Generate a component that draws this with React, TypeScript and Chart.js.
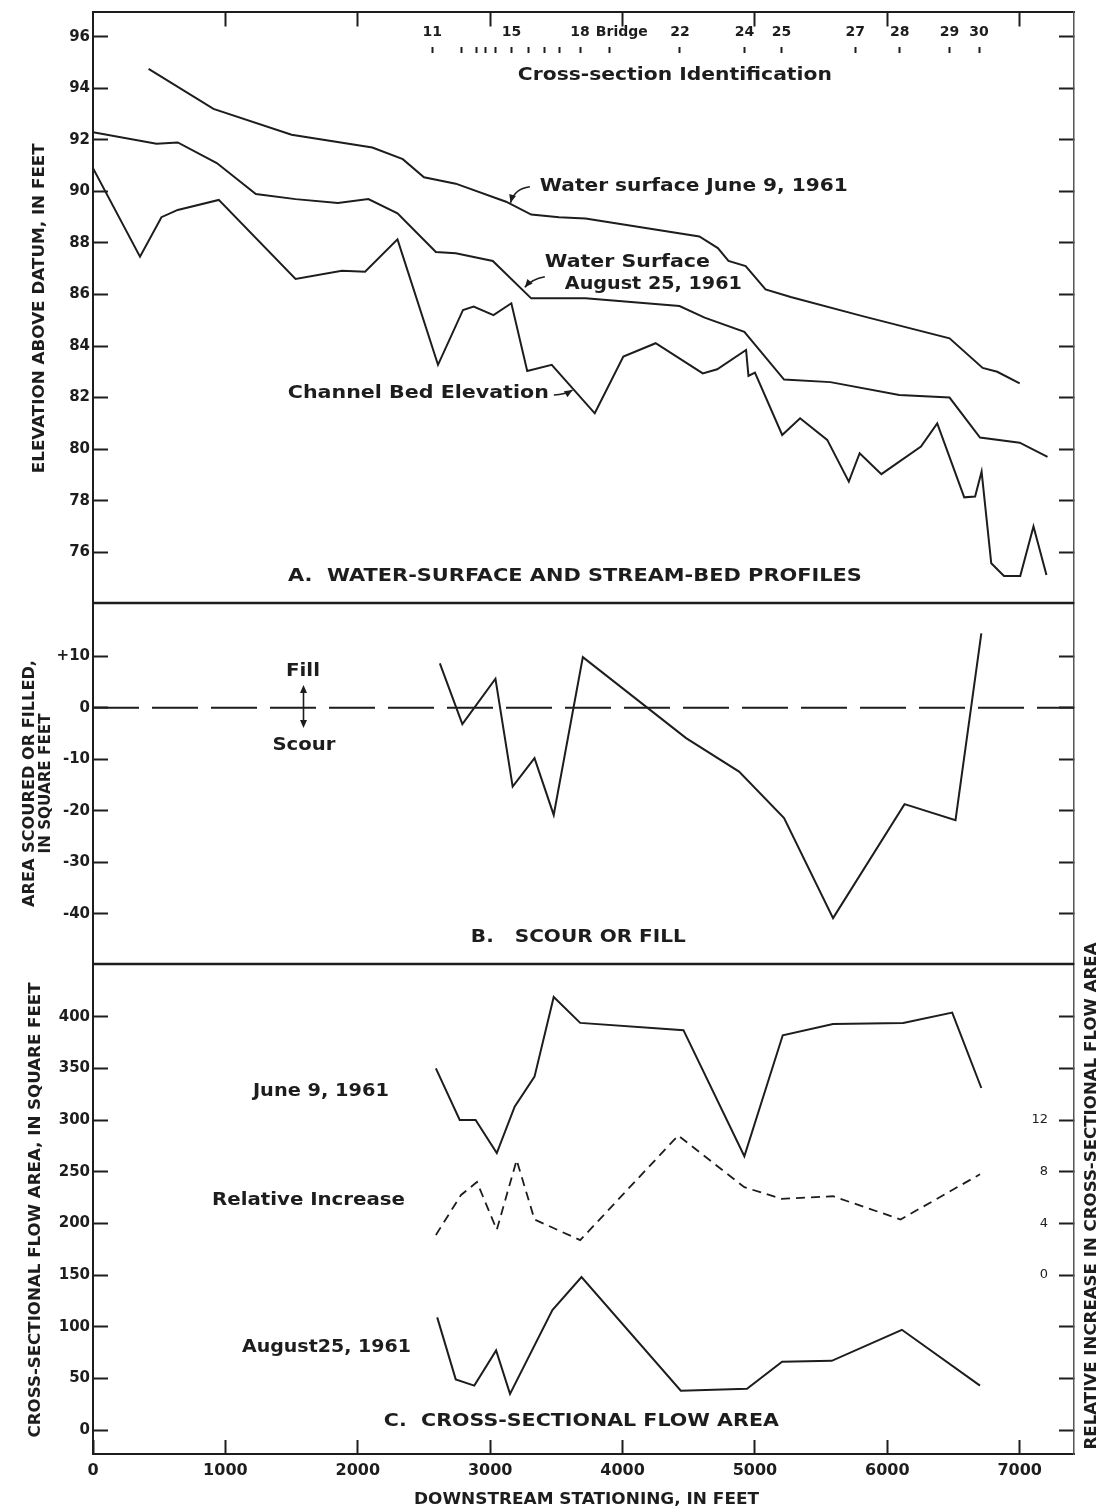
import { useEffect, useRef } from 'react';
import { Chart, registerables } from 'chart.js';

Chart.register(...registerables);

// ---------- A. Water-surface and stream-bed profiles (elevation above datum, ft) ----------
const juneSurfaceStations = [420, 910, 1500, 2110, 2340, 2500, 2740, 3120, 3310, 3520, 3720, 4580, 4720, 4800, 4930, 5080, 5270, 5820, 6470, 6720, 6830, 7000];
const juneSurfaceElevations = [94.75, 93.2, 92.2, 91.7, 91.25, 90.55, 90.3, 89.6, 89.1, 89.0, 88.95, 88.25, 87.8, 87.3, 87.1, 86.2, 85.9, 85.15, 84.3, 83.15, 83.0, 82.55];

const augustSurfaceStations = [0, 480, 640, 935, 1230, 1530, 1850, 2080, 2300, 2590, 2740, 3020, 3310, 3720, 4430, 4620, 4920, 5220, 5570, 6090, 6470, 6700, 7000, 7210];
const augustSurfaceElevations = [92.3, 91.85, 91.9, 91.1, 89.9, 89.7, 89.55, 89.7, 89.15, 87.65, 87.6, 87.3, 85.85, 85.85, 85.55, 85.1, 84.55, 82.7, 82.6, 82.1, 82.0, 80.45, 80.25, 79.7];

const bedStations = [0, 355, 517, 640, 950, 1530, 1880, 2055, 2300, 2606, 2795, 2875, 3025, 3160, 3280, 3465, 3790, 4006, 4250, 4606, 4715, 4933, 4951, 5000, 5206, 5341, 5546, 5709, 5791, 5955, 6254, 6377, 6581, 6663, 6712, 6785, 6881, 7004, 7104, 7202];
const bedElevations = [90.9, 87.47, 89.0, 89.28, 89.67, 86.6, 86.92, 86.88, 88.14, 83.27, 85.4, 85.53, 85.2, 85.66, 83.03, 83.27, 81.39, 83.59, 84.11, 82.94, 83.1, 83.85, 82.84, 82.97, 80.55, 81.2, 80.36, 78.74, 79.84, 79.03, 80.1, 81.0, 78.13, 78.16, 79.13, 75.57, 75.08, 75.08, 77.0, 75.12];

// ---------- B. Scour or fill (area scoured or filled, sq ft) ----------
const scourStations = [2620, 2790, 3040, 3170, 3335, 3480, 3700, 4480, 4880, 5220, 5590, 6130, 6515, 6710];
const scourAreas = [8.6, -3.2, 5.6, -15.3, -9.8, -20.8, 9.8, -5.9, -12.4, -21.4, -40.8, -18.7, -21.8, 14.4];
const zeroLineStations = [0, 7410];
const zeroLineValues = [0, 0];

// ---------- C. Cross-sectional flow area (sq ft) and relative increase ----------
const juneAreaStations = [2590, 2770, 2890, 3050, 3185, 3335, 3480, 3680, 4460, 4920, 5210, 5590, 6120, 6490, 6710];
const juneAreas = [350, 300, 300, 268, 313, 342, 419, 394, 387, 265, 382, 393, 394, 404, 331];

const increaseStations = [2590, 2780, 2900, 3050, 3200, 3335, 3680, 4420, 4920, 5200, 5590, 6100, 6700];
const increaseValues = [3.1, 6.2, 7.2, 3.5, 8.9, 4.3, 2.7, 10.8, 6.8, 5.9, 6.1, 4.3, 7.8];

const augustAreaStations = [2600, 2740, 2880, 3045, 3150, 3470, 3690, 4440, 4940, 5205, 5580, 6110, 6700];
const augustAreas = [109, 49, 43, 77, 35, 116, 148, 38, 40, 66, 67, 97, 43];

// ---------- Cross-section identification ----------
const sectionStations = [2562, 2780, 2895, 2967, 3037, 3162, 3287, 3414, 3525, 3679, 3902, 4433, 4921, 5200, 5758, 6093, 6469, 6693];
const sectionLabels = ['11', '', '', '', '', '15', '', '', '', '18', '     Bridge', '22', '24', '25', '27', '28', '29', '30'];

// ---------- Tick values ----------
const stationTicks = [0, 1000, 2000, 3000, 4000, 5000, 6000, 7000];
const topStationTicks = [1000, 2000, 3000, 4000, 5000, 6000, 7000];
const elevationTicks = [76, 78, 80, 82, 84, 86, 88, 90, 92, 94, 96];
const scourTicks = [-40, -30, -20, -10, 0, 10];
const areaTicks = [0, 50, 100, 150, 200, 250, 300, 350, 400];
const increaseTicks = [-12, -8, -4, 0, 4, 8, 12, 16, 20];
const increaseLabelled = [0, 4, 8, 12];

// ---------- Axis ranges ----------
const STATION_MAX = 7410;
const ELEV_MIN = 74.03;
const ELEV_MAX = 96.98;
const SCOUR_MIN = -49.7;
const SCOUR_MAX = 20.29;
const AREA_MIN = -23.2;
const AREA_MAX = 451;
// relative increase shares the flow-area frame: 0 sits at 150 sq ft, 4 units per 50 sq ft
const toIncrease = (area: number) => (area - 150) / 12.5;

const INK = '#1d1d1d';
const FONT = "'DejaVu Sans', 'Liberation Sans', sans-serif";

const toPoints = (xs: number[], ys: number[]) => xs.map((x, i) => ({ x, y: ys[i] }));

type Note = {
  text: string;
  station: number;
  value: number;
  axis: string;
  width: number;
  size: number;
  align: CanvasTextAlign;
};

const panelNotes: Note[] = [
  { text: 'Cross-section Identification', station: 4395, value: 94.52, axis: 'yA', width: 314, size: 18, align: 'center' },
  { text: 'Water surface June 9, 1961', station: 3375, value: 90.21, axis: 'yA', width: 308, size: 18, align: 'left' },
  { text: 'Water Surface', station: 3413, value: 87.26, axis: 'yA', width: 165, size: 18, align: 'left' },
  { text: 'August 25, 1961', station: 3564, value: 86.41, axis: 'yA', width: 177, size: 18, align: 'left' },
  { text: 'Channel Bed Elevation', station: 3443, value: 82.18, axis: 'yA', width: 261, size: 18, align: 'right' },
  { text: 'A.  WATER-SURFACE AND STREAM-BED PROFILES', station: 1472, value: 75.04, axis: 'yA', width: 574, size: 17, align: 'left' },
  { text: 'Fill', station: 1586, value: 6.91, axis: 'yB', width: 34, size: 17, align: 'center' },
  { text: 'Scour', station: 1593, value: -7.43, axis: 'yB', width: 63, size: 17, align: 'center' },
  { text: 'B.   SCOUR OR FILL', station: 2854, value: -44.66, axis: 'yB', width: 215, size: 17, align: 'left' },
  { text: 'June 9, 1961', station: 1208, value: 327.1, axis: 'yC', width: 136, size: 17, align: 'left' },
  { text: 'Relative Increase', station: 899, value: 221.6, axis: 'yC', width: 193, size: 17, align: 'left' },
  { text: 'August25, 1961', station: 1125, value: 79.4, axis: 'yC', width: 169, size: 17, align: 'left' },
  { text: 'C.  CROSS-SECTIONAL FLOW AREA', station: 2197, value: 7.8, axis: 'yC', width: 395, size: 17, align: 'left' },
];

type Leader = { axis: string; from: [number, number]; to: [number, number]; bend: number };
const leaders: Leader[] = [
  { axis: 'yA', from: [3300, 90.18], to: [3154, 89.56], bend: -6 },
  { axis: 'yA', from: [3413, 86.69], to: [3262, 86.28], bend: -3 },
  { axis: 'yA', from: [3481, 82.1], to: [3622, 82.29], bend: 2 },
];

type AxisTitle = { lines: string[]; axis: string; x: number; lengths: number[]; shift: number; size: number };
const axisTitles: AxisTitle[] = [
  { lines: ['ELEVATION ABOVE DATUM, IN FEET'], axis: 'yA', x: 40, lengths: [330], shift: 1, size: 15 },
  { lines: ['AREA SCOURED OR FILLED,', 'IN SQUARE FEET'], axis: 'yB', x: 30, lengths: [247, 140], shift: 0, size: 15 },
  { lines: ['CROSS-SECTIONAL FLOW AREA, IN SQUARE FEET'], axis: 'yC', x: 36, lengths: [455], shift: 1, size: 15 },
  { lines: ['RELATIVE INCREASE IN CROSS-SECTIONAL FLOW AREA'], axis: 'yCR', x: 1092, lengths: [507], shift: -13, size: 15 },
];

function fittedText(
  ctx: CanvasRenderingContext2D,
  text: string,
  x: number,
  y: number,
  size: number,
  width: number,
  align: CanvasTextAlign,
  rotate = 0,
) {
  ctx.save();
  ctx.font = `bold ${size}px ${FONT}`;
  const natural = ctx.measureText(text).width;
  ctx.translate(x, y);
  if (rotate) ctx.rotate(rotate);
  ctx.scale(width / natural, 1);
  ctx.textAlign = align;
  ctx.textBaseline = 'middle';
  ctx.fillStyle = INK;
  ctx.fillText(text, 0, 0);
  ctx.restore();
}

function arrowHead(ctx: CanvasRenderingContext2D, x: number, y: number, angle: number, len = 8, half = 3.5) {
  ctx.save();
  ctx.translate(x, y);
  ctx.rotate(angle);
  ctx.beginPath();
  ctx.moveTo(0, 0);
  ctx.lineTo(-len, -half);
  ctx.lineTo(-len, half);
  ctx.closePath();
  ctx.fillStyle = INK;
  ctx.fill();
  ctx.restore();
}

const figureNotes = {
  id: 'figureNotes',
  afterDraw(chart: any) {
    const { ctx, scales, chartArea } = chart;
    const px = (v: number) => scales.x.getPixelForValue(v);

    // panel dividers
    ctx.save();
    ctx.strokeStyle = INK;
    ctx.lineWidth = 2.5;
    [scales.yA.bottom, scales.yB.bottom].forEach((y: number) => {
      ctx.beginPath();
      ctx.moveTo(chartArea.left, y);
      ctx.lineTo(chartArea.right, y);
      ctx.stroke();
    });
    ctx.restore();

    // panel notes
    panelNotes.forEach((n) => {
      fittedText(ctx, n.text, px(n.station), scales[n.axis].getPixelForValue(n.value), n.size, n.width, n.align);
    });

    // leader arrows
    ctx.save();
    ctx.strokeStyle = INK;
    ctx.lineWidth = 1.6;
    leaders.forEach((l) => {
      const s = scales[l.axis];
      const x0 = px(l.from[0]);
      const y0 = s.getPixelForValue(l.from[1]);
      const x1 = px(l.to[0]);
      const y1 = s.getPixelForValue(l.to[1]);
      const cx = (x0 + x1) / 2 + l.bend;
      const cy = (y0 + y1) / 2 + l.bend;
      ctx.beginPath();
      ctx.moveTo(x0, y0);
      ctx.quadraticCurveTo(cx, cy, x1, y1);
      ctx.stroke();
      arrowHead(ctx, x1, y1, Math.atan2(y1 - cy, x1 - cx));
    });
    ctx.restore();

    // fill / scour double arrow
    const ax = px(1590);
    const yTop = scales.yB.getPixelForValue(4.4);
    const yBot = scales.yB.getPixelForValue(-3.94);
    ctx.save();
    ctx.strokeStyle = INK;
    ctx.lineWidth = 1.6;
    ctx.beginPath();
    ctx.moveTo(ax, yTop + 4);
    ctx.lineTo(ax, yBot - 4);
    ctx.stroke();
    arrowHead(ctx, ax, yTop, -Math.PI / 2, 8, 3.5);
    arrowHead(ctx, ax, yBot, Math.PI / 2, 8, 3.5);
    ctx.restore();

    // axis titles
    axisTitles.forEach((t) => {
      const s = scales[t.axis];
      const cy = (s.top + s.bottom) / 2 + t.shift;
      t.lines.forEach((line, i) => {
        fittedText(ctx, line, t.x + i * 16, cy, t.size, t.lengths[i], 'center', -Math.PI / 2);
      });
    });

    // x-axis title
    fittedText(ctx, 'DOWNSTREAM STATIONING, IN FEET', px(3728), 1500, 15, 345, 'center');
  },
};

const tickFont = { family: FONT, size: 15, weight: 'bold' as const };

function fixedTicks(values: number[]) {
  return (scale: any) => {
    scale.ticks = values.map((value) => ({ value }));
  };
}

// keep every axis box at an exact size, with no extra label padding pushed onto the plot area
function sized(width?: number, height?: number) {
  return (s: any) => {
    if (width !== undefined) s.width = width;
    if (height !== undefined) s.height = height;
    s.paddingTop = 0;
    s.paddingBottom = 0;
    s.paddingLeft = 0;
    s.paddingRight = 0;
  };
}

function leftAxis(min: number, max: number, ticks: number[], weight: number, stackWeight: number, fmt?: (v: number) => string) {
  return {
    type: 'linear',
    position: 'left',
    stack: 'panels',
    stackWeight,
    weight,
    min,
    max,
    afterBuildTicks: fixedTicks(ticks),
    afterFit: sized(93),
    grid: { drawOnChartArea: false, drawTicks: true, tickLength: -15, tickWidth: 2, tickColor: INK },
    border: { display: true, color: INK, width: 2 },
    ticks: {
      color: INK,
      font: tickFont,
      padding: 18,
      callback: (v: number) => (fmt ? fmt(v) : String(v)),
    },
  };
}

function rightAxis(min: number, max: number, ticks: number[], weight: number, stackWeight: number, labels?: number[]) {
  return {
    type: 'linear',
    position: 'right',
    stack: 'panels',
    stackWeight,
    weight,
    min,
    max,
    afterBuildTicks: fixedTicks(ticks),
    afterFit: sized(32),
    grid: { drawOnChartArea: false, drawTicks: true, tickLength: -15, tickWidth: 2, tickColor: INK },
    border: { display: true, color: '#555', width: 1.5, dash: [6, 3] },
    ticks: {
      display: !!labels,
      mirror: true,
      padding: -26,
      color: INK,
      font: { family: FONT, size: 13 },
      callback: (v: number) => (labels && labels.includes(v) ? String(v) : ''),
    },
  };
}

function lineSet(xs: number[], ys: number[], yAxisID: string, extra: Record<string, unknown> = {}) {
  return {
    data: toPoints(xs, ys),
    xAxisID: 'x',
    yAxisID,
    borderColor: INK,
    borderWidth: 2,
    pointRadius: 0,
    tension: 0,
    fill: false,
    ...extra,
  };
}

export default function App() {
  const canvasRef = useRef<HTMLCanvasElement | null>(null);

  useEffect(() => {
    const canvas = canvasRef.current;
    if (!canvas) return;

    const chart = new Chart(canvas, {
      type: 'line',
      data: {
        datasets: [
          lineSet(juneSurfaceStations, juneSurfaceElevations, 'yA'),
          lineSet(augustSurfaceStations, augustSurfaceElevations, 'yA'),
          lineSet(bedStations, bedElevations, 'yA'),
          lineSet(zeroLineStations, zeroLineValues, 'yB', { borderDash: [46, 13] }),
          lineSet(scourStations, scourAreas, 'yB'),
          lineSet(juneAreaStations, juneAreas, 'yC'),
          lineSet(increaseStations, increaseValues, 'yCR', { borderDash: [9, 6], borderWidth: 1.8 }),
          lineSet(augustAreaStations, augustAreas, 'yC'),
        ] as any,
      },
      options: {
        responsive: false,
        animation: false,
        devicePixelRatio: 1,
        layout: { padding: 0 },
        plugins: {
          legend: { display: false },
          tooltip: { enabled: false },
        },
        scales: {
          x: {
            type: 'linear',
            position: 'bottom',
            min: 0,
            max: STATION_MAX,
            afterBuildTicks: fixedTicks(stationTicks),
            afterFit: sized(undefined, 58),
            grid: { drawOnChartArea: false, drawTicks: true, tickLength: -14, tickWidth: 2, tickColor: INK },
            border: { display: true, color: INK, width: 2 },
            ticks: {
              color: INK,
              font: { family: FONT, size: 16, weight: 'bold' },
              padding: 21,
              autoSkip: false,
              maxRotation: 0,
              minRotation: 0,
              callback: (v: number) => String(v),
            },
          },
          xTop: {
            type: 'linear',
            position: 'top',
            min: 0,
            max: STATION_MAX,
            afterBuildTicks: fixedTicks(topStationTicks),
            afterFit: sized(undefined, 11.5),
            grid: { drawOnChartArea: false, drawTicks: true, tickLength: -15, tickWidth: 2, tickColor: INK },
            border: { display: true, color: INK, width: 2 },
            ticks: { display: false },
          },
          xSec: {
            type: 'linear',
            position: { yA: 95.59 },
            min: 0,
            max: STATION_MAX,
            afterBuildTicks: fixedTicks(sectionStations),
            afterFit: sized(),
            grid: { drawOnChartArea: false, drawTicks: true, tickLength: 6, tickWidth: 2, tickColor: INK },
            border: { display: false },
            ticks: {
              color: INK,
              font: { family: FONT, size: 14, weight: 'bold' },
              padding: -29,
              autoSkip: false,
              maxRotation: 0,
              minRotation: 0,
              callback: (_v: number, i: number) => sectionLabels[i],
            },
          },
          yA: leftAxis(ELEV_MIN, ELEV_MAX, elevationTicks, 3, 591.5),
          yB: leftAxis(SCOUR_MIN, SCOUR_MAX, scourTicks, 2, 361, (v) => (v > 0 ? `+${v}` : String(v))),
          yC: leftAxis(AREA_MIN, AREA_MAX, areaTicks, 1, 490),
          yAR: rightAxis(ELEV_MIN, ELEV_MAX, elevationTicks, 1, 591.5),
          yBR: rightAxis(SCOUR_MIN, SCOUR_MAX, scourTicks, 2, 361),
          yCR: rightAxis(toIncrease(AREA_MIN), toIncrease(AREA_MAX), increaseTicks, 3, 490, increaseLabelled),
        } as any,
      },
      plugins: [figureNotes],
    });

    return () => chart.destroy();
  }, []);

  return (
    <div style={{ position: 'absolute', left: 0, top: 0, width: 1106, height: 1512, background: '#ffffff' }}>
      <canvas ref={canvasRef} width={1106} height={1512} style={{ display: 'block' }} />
    </div>
  );
}
